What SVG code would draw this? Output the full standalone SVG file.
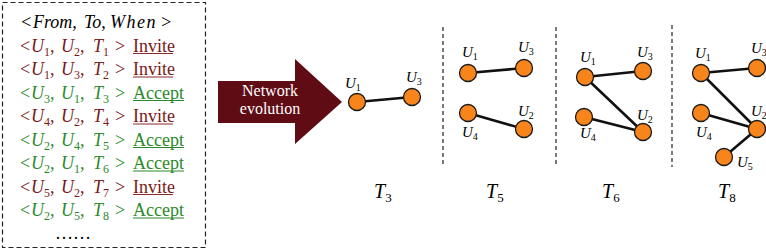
<svg xmlns="http://www.w3.org/2000/svg" width="766" height="250" viewBox="0 0 766 250" font-family="'Liberation Serif', 'DejaVu Serif', serif">
<style>
text{font-family:"Liberation Serif","DejaVu Serif",serif}
.ev{font-size:18px}
.it{font-style:italic}
.sb{font-size:12px;font-style:normal}
.r{fill:#7a1818}
.g{fill:#2a8a2a}
.ur{stroke:#8a2a2a;stroke-width:1.2}
.ug{stroke:#2a8a2a;stroke-width:1.2}
.node{fill:#f7851c;stroke:#1a1a1a;stroke-width:1.3}
.edge{stroke:#111;stroke-width:2.6;stroke-linecap:round}
.lab{font-size:15px;font-style:italic}
.lsb{font-size:10px;font-style:normal}
.tl{font-size:20px;font-style:italic}
.tsb{font-size:13px;font-style:normal}
.sep{stroke:#222;stroke-width:1.2;stroke-dasharray:4 3;fill:none}
</style>
<g id="event-list">
<rect x="2.5" y="2.5" width="203" height="245" fill="#fff" stroke="#222" stroke-width="1.2" stroke-dasharray="5 3"/>
<text class="ev it" y="28"><tspan x="20">&lt;</tspan><tspan x="33">From,</tspan><tspan x="84">To,</tspan><tspan x="110" letter-spacing="1.5">When</tspan><tspan x="160">&gt;</tspan></text>
<text class="ev r" y="51.5"><tspan x="20">&lt;</tspan><tspan x="31" class="it">U</tspan><tspan class="sb" dy="4">1</tspan><tspan dy="-4">,</tspan><tspan x="61" class="it">U</tspan><tspan class="sb" dy="4">2</tspan><tspan dy="-4">,</tspan><tspan x="93" class="it">T</tspan><tspan class="sb" dy="4">1</tspan><tspan x="115" dy="-4">&gt;</tspan><tspan x="133">Invite</tspan></text>
<line class="ur" x1="133" y1="53.5" x2="173" y2="53.5"/>
<text class="ev r" y="75"><tspan x="20">&lt;</tspan><tspan x="31" class="it">U</tspan><tspan class="sb" dy="4">1</tspan><tspan dy="-4">,</tspan><tspan x="61" class="it">U</tspan><tspan class="sb" dy="4">3</tspan><tspan dy="-4">,</tspan><tspan x="93" class="it">T</tspan><tspan class="sb" dy="4">2</tspan><tspan x="115" dy="-4">&gt;</tspan><tspan x="133">Invite</tspan></text>
<line class="ur" x1="133" y1="77" x2="173" y2="77"/>
<text class="ev g" y="98.5"><tspan x="20">&lt;</tspan><tspan x="31" class="it">U</tspan><tspan class="sb" dy="4">3</tspan><tspan dy="-4">,</tspan><tspan x="61" class="it">U</tspan><tspan class="sb" dy="4">1</tspan><tspan dy="-4">,</tspan><tspan x="93" class="it">T</tspan><tspan class="sb" dy="4">3</tspan><tspan x="115" dy="-4">&gt;</tspan><tspan x="133">Accept</tspan></text>
<line class="ug" x1="133" y1="100.5" x2="184" y2="100.5"/>
<text class="ev r" y="122"><tspan x="20">&lt;</tspan><tspan x="31" class="it">U</tspan><tspan class="sb" dy="4">4</tspan><tspan dy="-4">,</tspan><tspan x="61" class="it">U</tspan><tspan class="sb" dy="4">2</tspan><tspan dy="-4">,</tspan><tspan x="93" class="it">T</tspan><tspan class="sb" dy="4">4</tspan><tspan x="115" dy="-4">&gt;</tspan><tspan x="133">Invite</tspan></text>
<line class="ur" x1="133" y1="124" x2="173" y2="124"/>
<text class="ev g" y="145.5"><tspan x="20">&lt;</tspan><tspan x="31" class="it">U</tspan><tspan class="sb" dy="4">2</tspan><tspan dy="-4">,</tspan><tspan x="61" class="it">U</tspan><tspan class="sb" dy="4">4</tspan><tspan dy="-4">,</tspan><tspan x="93" class="it">T</tspan><tspan class="sb" dy="4">5</tspan><tspan x="115" dy="-4">&gt;</tspan><tspan x="133">Accept</tspan></text>
<line class="ug" x1="133" y1="147.5" x2="184" y2="147.5"/>
<text class="ev g" y="169"><tspan x="20">&lt;</tspan><tspan x="31" class="it">U</tspan><tspan class="sb" dy="4">2</tspan><tspan dy="-4">,</tspan><tspan x="61" class="it">U</tspan><tspan class="sb" dy="4">1</tspan><tspan dy="-4">,</tspan><tspan x="93" class="it">T</tspan><tspan class="sb" dy="4">6</tspan><tspan x="115" dy="-4">&gt;</tspan><tspan x="133">Accept</tspan></text>
<line class="ug" x1="133" y1="171" x2="184" y2="171"/>
<text class="ev r" y="192.5"><tspan x="20">&lt;</tspan><tspan x="31" class="it">U</tspan><tspan class="sb" dy="4">5</tspan><tspan dy="-4">,</tspan><tspan x="61" class="it">U</tspan><tspan class="sb" dy="4">2</tspan><tspan dy="-4">,</tspan><tspan x="93" class="it">T</tspan><tspan class="sb" dy="4">7</tspan><tspan x="115" dy="-4">&gt;</tspan><tspan x="133">Invite</tspan></text>
<line class="ur" x1="133" y1="194.5" x2="173" y2="194.5"/>
<text class="ev g" y="216"><tspan x="20">&lt;</tspan><tspan x="31" class="it">U</tspan><tspan class="sb" dy="4">2</tspan><tspan dy="-4">,</tspan><tspan x="61" class="it">U</tspan><tspan class="sb" dy="4">5</tspan><tspan dy="-4">,</tspan><tspan x="93" class="it">T</tspan><tspan class="sb" dy="4">8</tspan><tspan x="115" dy="-4">&gt;</tspan><tspan x="133">Accept</tspan></text>
<line class="ug" x1="133" y1="218" x2="184" y2="218"/>
<text class="ev" x="55" y="239">……</text>
</g>
<g id="arrow">
<polygon points="218,81 295,81 295,59 342,102 295,144 295,123 218,123" fill="#600c14"/>
<text x="270" y="96" font-size="16" fill="#fff" text-anchor="middle">Network</text>
<text x="270" y="114" font-size="16" fill="#fff" text-anchor="middle">evolution</text>
</g>
<g id="separators">
<line class="sep" x1="443" y1="27" x2="443" y2="167"/>
<line class="sep" x1="556" y1="27" x2="556" y2="167"/>
<line class="sep" x1="672" y1="25" x2="672" y2="167" stroke="#666"/>
</g>
<g id="connectors">
<line class="edge" x1="357" y1="102" x2="412" y2="97"/>
<line class="edge" x1="468" y1="73" x2="524" y2="68"/>
<line class="edge" x1="468" y1="113" x2="524" y2="129"/>
<line class="edge" x1="585" y1="77" x2="643" y2="71"/>
<line class="edge" x1="585" y1="77" x2="643" y2="132"/>
<line class="edge" x1="584" y1="117" x2="643" y2="132"/>
<line class="edge" x1="701" y1="73" x2="757" y2="68"/>
<line class="edge" x1="701" y1="73" x2="757" y2="129"/>
<line class="edge" x1="701" y1="113" x2="757" y2="129"/>
<line class="edge" x1="724" y1="157" x2="757" y2="129"/>
</g>
<g id="T3">
<circle class="node" cx="357" cy="102" r="8.5"/>
<circle class="node" cx="412" cy="97" r="8.5"/>
<text class="lab" x="345" y="88">U<tspan class="lsb" dy="3">1</tspan></text>
<text class="lab" x="406" y="82">U<tspan class="lsb" dy="3">3</tspan></text>
<text class="tl" x="374" y="198">T<tspan class="tsb" dy="4">3</tspan></text>
</g>
<g id="T5">
<circle class="node" cx="468" cy="73" r="8.5"/>
<circle class="node" cx="524" cy="68" r="8.5"/>
<circle class="node" cx="468" cy="113" r="8.5"/>
<circle class="node" cx="524" cy="129" r="8.5"/>
<text class="lab" x="462" y="57">U<tspan class="lsb" dy="3">1</tspan></text>
<text class="lab" x="518" y="52">U<tspan class="lsb" dy="3">3</tspan></text>
<text class="lab" x="518" y="116">U<tspan class="lsb" dy="3">2</tspan></text>
<text class="lab" x="462" y="137">U<tspan class="lsb" dy="3">4</tspan></text>
<text class="tl" x="486" y="198">T<tspan class="tsb" dy="4">5</tspan></text>
</g>
<g id="T6">
<circle class="node" cx="585" cy="77" r="8.5"/>
<circle class="node" cx="643" cy="71" r="8.5"/>
<circle class="node" cx="584" cy="117" r="8.5"/>
<circle class="node" cx="643" cy="132" r="8.5"/>
<text class="lab" x="580" y="62">U<tspan class="lsb" dy="3">1</tspan></text>
<text class="lab" x="637" y="57">U<tspan class="lsb" dy="3">3</tspan></text>
<text class="lab" x="637" y="120">U<tspan class="lsb" dy="3">2</tspan></text>
<text class="lab" x="580" y="138">U<tspan class="lsb" dy="3">4</tspan></text>
<text class="tl" x="602" y="198">T<tspan class="tsb" dy="4">6</tspan></text>
</g>
<g id="T8">
<circle class="node" cx="701" cy="73" r="8.5"/>
<circle class="node" cx="757" cy="68" r="8.5"/>
<circle class="node" cx="701" cy="113" r="8.5"/>
<circle class="node" cx="757" cy="129" r="8.5"/>
<circle class="node" cx="724" cy="157" r="8.5"/>
<text class="lab" x="695" y="58">U<tspan class="lsb" dy="3">1</tspan></text>
<text class="lab" x="751" y="53">U<tspan class="lsb" dy="3">3</tspan></text>
<text class="lab" x="751" y="116">U<tspan class="lsb" dy="3">2</tspan></text>
<text class="lab" x="696" y="137">U<tspan class="lsb" dy="3">4</tspan></text>
<text class="lab" x="737" y="167">U<tspan class="lsb" dy="3">5</tspan></text>
<text class="tl" x="718" y="198">T<tspan class="tsb" dy="4">8</tspan></text>
</g>
</svg>
